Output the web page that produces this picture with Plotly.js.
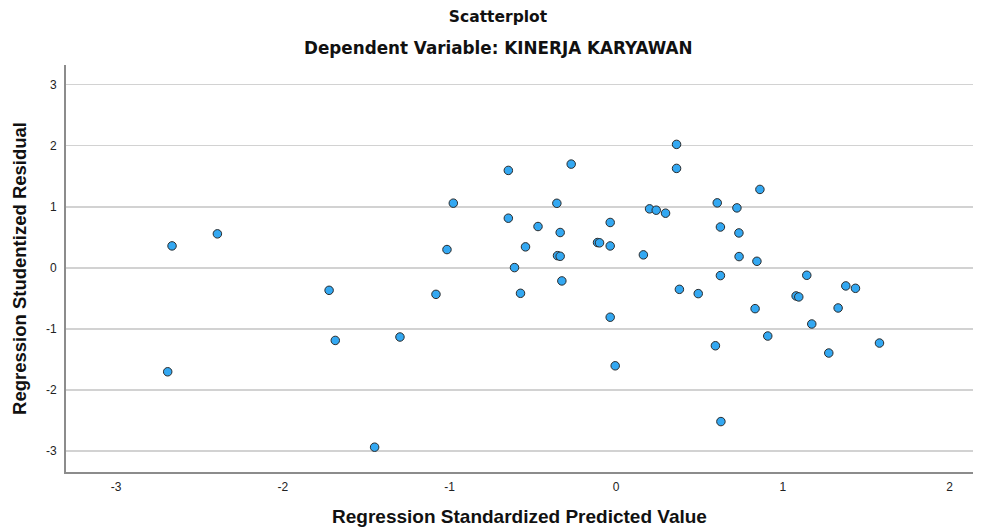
<!DOCTYPE html>
<html>
<head>
<meta charset="utf-8">
<script src="https://cdn.plot.ly/plotly-3.0.1.min.js"></script>
<style>html,body{margin:0;padding:0;background:#fff;}#chart{width:989px;height:532px;}</style>
</head>
<body>
<div id="chart"></div>
<script>
// Regression Standardized Predicted Value
const predicted = [
  -2.664, -2.392, -2.690, -1.722, -1.685, -1.297, -1.449, -1.081, -1.015, -0.977,
  -0.647, -0.647, -0.610, -0.544, -0.574, -0.469, -0.356, -0.336, -0.352, -0.336,
  -0.326, -0.270, -0.112, -0.100, -0.036, -0.036, -0.036, -0.006, 0.163, 0.200,
  0.240, 0.296, 0.362, 0.362, 0.379, 0.492, 0.606, 0.625, 0.625, 0.595,
  0.628, 0.724, 0.736, 0.737, 0.844, 0.833, 0.862, 0.909, 1.079, 1.095,
  1.143, 1.173, 1.275, 1.331, 1.377, 1.435, 1.579
];
// Regression Studentized Residual
const residual = [
  0.360, 0.557, -1.700, -0.367, -1.187, -1.131, -2.934, -0.433, 0.300, 1.059,
  1.595, 0.813, 0.005, 0.344, -0.416, 0.677, 1.057, 0.579, 0.200, 0.190,
  -0.213, 1.698, 0.415, 0.410, 0.743, 0.359, -0.807, -1.602, 0.213, 0.966,
  0.944, 0.895, 2.021, 1.628, -0.351, -0.421, 1.064, 0.669, -0.126, -1.274,
  -2.515, 0.982, 0.572, 0.185, 0.108, -0.667, 1.284, -1.115, -0.459, -0.475,
  -0.121, -0.918, -1.393, -0.656, -0.295, -0.334, -1.230
];
const xTicks = [-3, -2, -1, 0, 1, 2];
const yTicks = [-3, -2, -1, 0, 1, 2, 3];

const FONT = 'Liberation Sans, Arial, sans-serif';
const TITLE_FONT = 'DejaVu Sans, sans-serif';

const trace = {
  type: 'scatter',
  mode: 'markers',
  x: predicted,
  y: residual,
  marker: {size: 8.5, color: '#33A8F2', line: {color: '#2b2b2b', width: 1}},
  hoverinfo: 'x+y'
};

const layout = {
  width: 989, height: 532,
  paper_bgcolor: '#ffffff', plot_bgcolor: '#ffffff',
  margin: {l: 66, r: 16, t: 65, b: 60},
  showlegend: false,
  font: {family: FONT, color: '#222', size: 12},
  title: {
    text: '<b>Scatterplot</b>',
    font: {family: TITLE_FONT, size: 15.5, color: '#111'},
    x: 498 / 989, xanchor: 'center', xref: 'container',
    y: 1 - 17 / 532, yanchor: 'middle', yref: 'container'
  },
  annotations: [{
    text: '<b>Dependent Variable: KINERJA KARYAWAN</b>',
    font: {family: TITLE_FONT, size: 16.8, color: '#111'},
    xref: 'paper', yref: 'paper',
    x: (498 - 66) / 907, y: (472 - 48) / 407,
    xanchor: 'center', yanchor: 'middle', showarrow: false
  }],
  xaxis: {
    range: [-3.30, 2.14],
    tickvals: xTicks,
    ticktext: xTicks.map(String),
    showgrid: false, zeroline: false,
    showline: true, linecolor: '#8c8c8c', linewidth: 2,
    ticks: '', ticklabelstandoff: 3,
    tickfont: {family: FONT, size: 12, color: '#222'},
    title: {text: '<b>Regression Standardized Predicted Value</b>', font: {family: FONT, size: 19, color: '#111'}, standoff: 16}
  },
  yaxis: {
    range: [-3.34, 3.32],
    tickvals: yTicks,
    ticktext: yTicks.map(String),
    showgrid: true, gridcolor: '#d2d2d2', gridwidth: 1.5,
    zeroline: false,
    showline: true, linecolor: '#8c8c8c', linewidth: 2,
    ticks: '', ticklabelstandoff: 5,
    tickfont: {family: FONT, size: 12, color: '#222'},
    title: {text: '<b>Regression Studentized Residual</b>', font: {family: FONT, size: 18.5, color: '#111'}, standoff: 14}
  }
};

Plotly.newPlot('chart', [trace], layout, {displayModeBar: false, staticPlot: true});
</script>
</body>
</html>
